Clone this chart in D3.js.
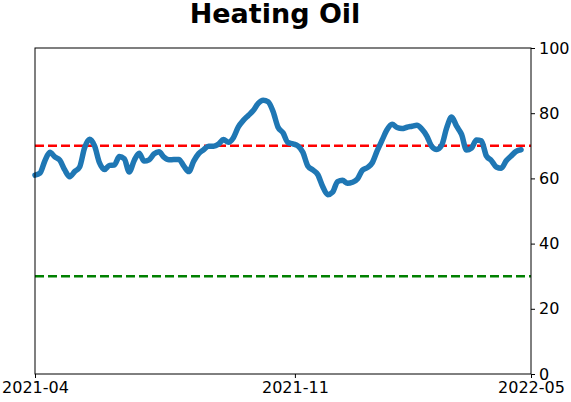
<!DOCTYPE html>
<html>
<head>
<meta charset="utf-8">
<script src="https://cdn.jsdelivr.net/npm/d3@7"></script>
<style>
body{margin:0;background:#fff;}
svg text{font-family:"DejaVu Sans",sans-serif;}
</style>
</head>
<body>
<svg id="chart" width="571" height="402"></svg>
<script>
// series, one value per step
var values=[61.0,61.6,65.4,68.0,66.6,65.6,62.6,60.5,62.1,63.5,
	69.4,72.0,70.0,64.8,62.7,64.0,64.1,66.7,66.0,62.0,
	65.5,67.7,65.3,65.7,67.5,68.2,66.5,65.7,65.8,65.8,
	63.8,62.1,65.3,67.6,68.8,69.9,69.9,70.5,71.9,71.1,
	72.5,75.8,77.8,79.3,80.8,83.0,84.0,83.5,80.5,75.7,
	74.0,71.0,70.6,70.0,68.0,63.8,62.6,61.2,57.5,55.0,
	55.8,59.0,59.4,58.5,58.8,59.8,62.5,63.3,64.8,68.5,
	71.8,75.0,76.6,75.6,75.3,75.7,76.0,76.3,75.1,73.0,
	69.8,68.9,70.2,75.5,78.8,76.0,73.5,68.7,69.3,71.8,
	71.5,66.9,65.5,63.5,63.1,65.4,66.9,68.3,68.8];
var steps=d3.range(values.length);
var stepDomain=[0,100];
var tickSteps=[0,52.4,100];
var tickLabels=["2021-04","2021-11","2022-05"];
var yTicks=[0,20,40,60,80,100];
var upperLevel=70, lowerLevel=30;

var svg=d3.select("#chart");
var plotLeft=35,plotRight=531,plotTop=48,plotBottom=374;

var x=d3.scaleLinear().domain(stepDomain).range([plotLeft,plotRight]);
var y=d3.scaleLinear().domain([0,100]).range([plotBottom,plotTop]);

//title
svg.append("text")
	.attr("x",275).attr("y",23)
	.attr("text-anchor","middle")
	.style("font-size","27px").style("font-weight","bold")
	.text("Heating Oil");

//reference lines
svg.append("line")
	.attr("x1",plotLeft).attr("x2",plotRight)
	.attr("y1",y(upperLevel)).attr("y2",y(upperLevel))
	.attr("stroke","#ff0000").attr("stroke-width",2.5)
	.attr("stroke-dasharray","9,4");
svg.append("line")
	.attr("x1",plotLeft).attr("x2",plotRight)
	.attr("y1",y(lowerLevel)).attr("y2",y(lowerLevel))
	.attr("stroke","#008000").attr("stroke-width",2.5)
	.attr("stroke-dasharray","9,4");

//series line
var line=d3.line()
	.x(function(d,i){return x(steps[i]);})
	.y(function(d){return y(d);})
	.curve(d3.curveMonotoneX);
svg.append("path")
	.datum(values)
	.attr("fill","none")
	.attr("stroke","#1f77b4")
	.attr("stroke-width",5.5)
	.attr("stroke-linejoin","round")
	.attr("stroke-linecap","round")
	.attr("d",line);

//frame
svg.append("rect")
	.attr("x",plotLeft).attr("y",plotTop)
	.attr("width",plotRight-plotLeft).attr("height",plotBottom-plotTop)
	.attr("fill","none").attr("stroke","#000").attr("stroke-width",1);

//axes
var xAxis=d3.axisBottom(x)
	.tickValues(tickSteps)
	.tickFormat(function(d,i){return tickLabels[i];})
	.tickSize(4).tickPadding(4);
var gx=svg.append("g")
	.attr("transform","translate(0,"+plotBottom+")")
	.call(xAxis);
gx.select(".domain").remove();
gx.selectAll("text").style("font-size","16px").style("font-family","DejaVu Sans").attr("fill","#000");

var yAxis=d3.axisRight(y)
	.tickValues(yTicks)
	.tickSize(4).tickPadding(4);
var gy=svg.append("g")
	.attr("transform","translate("+plotRight+",0)")
	.call(yAxis);
gy.select(".domain").remove();
gy.selectAll("text").style("font-size","16px").style("font-family","DejaVu Sans").attr("fill","#000");
</script>
</body>
</html>
